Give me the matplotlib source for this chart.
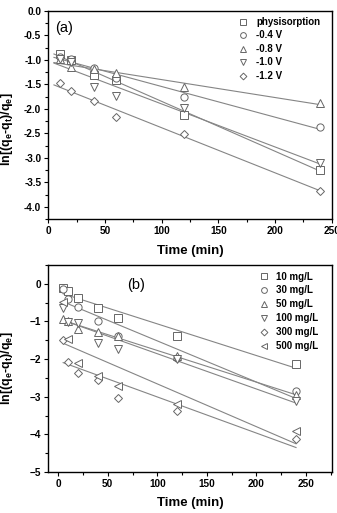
import numpy as np
import matplotlib
matplotlib.use("Agg")
import matplotlib.pyplot as plt
from matplotlib.ticker import MultipleLocator, FormatStrFormatter

plt.rcParams['font.family'] = ['Liberation Sans', 'DejaVu Sans']
plt.rcParams['mathtext.fontset'] = 'custom'
plt.rcParams['mathtext.rm'] = 'Liberation Sans'
plt.rcParams['mathtext.bf'] = 'Liberation Sans:bold'
plt.rcParams['mathtext.it'] = 'Liberation Sans:italic'

# ---- Panel (a) data ----
t_a = [10, 20, 40, 60, 120, 240]
labels_a = ["physisorption", "-0.4 V", "-0.8 V", "-1.0 V", "-1.2 V"]
phys = [-0.88, -1.01, -1.31, -1.40, -2.12, -3.24]
v04 = [-0.95, -0.98, -1.16, -1.36, -1.75, -2.37]
v08 = [-0.99, -1.14, -1.18, -1.27, -1.56, -1.87]
v10 = [-0.98, -1.05, -1.56, -1.74, -1.99, -3.11]
v12 = [-1.48, -1.63, -1.84, -2.17, -2.51, -3.67]
series_a = [phys, v04, v08, v10, v12]
markers_a = ['s', 'o', '^', 'v', 'D']

# ---- Panel (b) data ----
t_b = [5, 10, 20, 40, 60, 120, 240]
labels_b = ["10 mg/L", "30 mg/L", "50 mg/L", "100 mg/L", "300 mg/L", "500 mg/L"]
c10 = [-0.11, -0.19, -0.38, -0.64, -0.90, -1.38, -2.12]
c30 = [-0.15, -0.41, -0.62, -0.98, -1.39, -1.98, -2.84]
c50 = [-0.93, -1.00, -1.19, -1.28, -1.39, -1.92, -2.96]
c100 = [-0.64, -1.01, -1.04, -1.56, -1.74, -1.99, -3.10]
c300 = [-1.50, -2.07, -2.38, -2.56, -3.04, -3.39, -4.13]
c500 = [-0.49, -1.46, -2.10, -2.44, -2.71, -3.18, -3.90]
series_b = [c10, c30, c50, c100, c300, c500]
markers_b = ['s', 'o', '^', 'v', 'D', '<']

mcol = '#666666'
lcol = '#858585'
YLABEL = r'ln[(q$_\mathbf{e}$-q$_\mathbf{t}$)/q$_\mathbf{e}$]'

fig = plt.figure(figsize=(3.37, 5.13), dpi=100)
ax1 = fig.add_axes([0.1433, 0.5731, 0.841, 0.4055])
ax2 = fig.add_axes([0.1433, 0.0799, 0.841, 0.4035])


def style(ax):
    for s in ax.spines.values():
        s.set_linewidth(1.0)
    ax.tick_params(which='both', direction='out', top=False, right=False,
                   labelsize=7.2, width=0.8, pad=2)
    ax.tick_params(which='major', length=3)
    ax.tick_params(which='minor', length=2)
    for lb in ax.get_xticklabels() + ax.get_yticklabels():
        lb.set_fontweight('bold')


def draw(ax, t, series, markers, labels, line_range):
    tt = np.array(t, dtype=float)
    xs = np.array(line_range, dtype=float)
    for y, m, lab in zip(series, markers, labels):
        k, b = np.polyfit(tt, np.array(y), 1)
        ax.plot(xs, k * xs + b, color=lcol, lw=0.8, zorder=2)
        ms = 4.3 if m == 'D' else 5.2
        ax.plot(t, y, linestyle='none', marker=m, ms=ms, mfc='white',
                mec=mcol, mew=0.7, label=lab, zorder=3)


# ---------- (a) ----------
draw(ax1, t_a, series_a, markers_a, labels_a, (5, 240))
ax1.set_xlim(0, 250)
ax1.set_ylim(-4.25, 0)
ax1.xaxis.set_major_locator(MultipleLocator(50))
ax1.xaxis.set_minor_locator(MultipleLocator(25))
ax1.yaxis.set_major_locator(MultipleLocator(0.5))
ax1.yaxis.set_minor_locator(MultipleLocator(0.25))
ax1.yaxis.set_major_formatter(FormatStrFormatter('%.1f'))
ax1.set_xlabel('Time (min)', fontsize=9.5, fontweight='bold', va='center')
ax1.xaxis.set_label_coords(0.5, -0.154)
ax1.set_ylabel(YLABEL, fontsize=9, fontweight='bold', va='center')
ax1.yaxis.set_label_coords(-0.147, 0.433)
ax1.text(0.025, 0.92, '(a)', transform=ax1.transAxes, fontsize=10.5,
         ha='left', va='center')
ax1.legend(loc='upper left', bbox_to_anchor=(0.655, 0.99), frameon=False,
           prop={'size': 7, 'weight': 'bold'}, handlelength=1.0,
           handletextpad=0.9, labelspacing=0.36, borderaxespad=0.0,
           markerscale=0.8)
style(ax1)

# ---------- (b) ----------
draw(ax2, t_b, series_b, markers_b, labels_b, (5, 240))
ax2.set_xlim(-10, 276)
ax2.set_ylim(-5, 0.5)
ax2.xaxis.set_major_locator(MultipleLocator(50))
ax2.xaxis.set_minor_locator(MultipleLocator(25))
ax2.yaxis.set_major_locator(MultipleLocator(1))
ax2.yaxis.set_minor_locator(MultipleLocator(0.5))
ax2.set_xlabel('Time (min)', fontsize=9.5, fontweight='bold', va='center')
ax2.xaxis.set_label_coords(0.5, -0.150)
ax2.set_ylabel(YLABEL, fontsize=9, fontweight='bold', va='center')
ax2.yaxis.set_label_coords(-0.147, 0.5)
ax2.text(0.278, 0.903, '(b)', transform=ax2.transAxes, fontsize=10.5,
         ha='left', va='center')
ax2.legend(loc='upper left', bbox_to_anchor=(0.730, 0.987), frameon=False,
           prop={'size': 7, 'weight': 'bold'}, handlelength=1.0,
           handletextpad=0.7, labelspacing=0.40, borderaxespad=0.0,
           markerscale=0.8)
style(ax2)

fig.savefig('out.png', dpi=100)
